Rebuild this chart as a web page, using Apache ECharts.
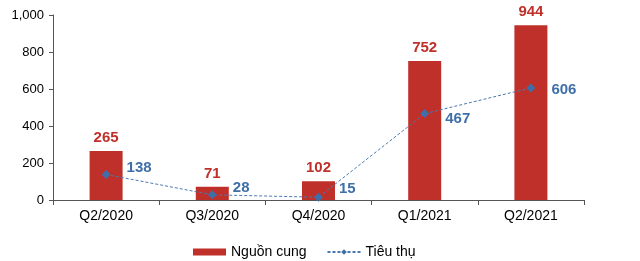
<!DOCTYPE html>
<html><head><meta charset="utf-8">
<script src="https://cdn.jsdelivr.net/npm/echarts@6/dist/echarts.min.js"></script>
<style>html,body{margin:0;padding:0;background:#fff}#c{width:640px;height:261px}</style>
</head><body><div id="c"></div>
<script>
var categories = ['Q2/2020', 'Q3/2020', 'Q4/2020', 'Q1/2021', 'Q2/2021'];
var supply = [265, 71, 102, 752, 944];
var consumption = [138, 28, 15, 467, 606];
var yTicks = [0, 200, 400, 600, 800, 1000];

var lineOffsets = [[0,-7],[0,-7],[0,-8],[0,5],[0,2]];
var FONT = '"Liberation Sans", Arial, sans-serif';
var chart = echarts.init(document.getElementById('c'));
chart.setOption({
  animation: false,
  textStyle: {fontFamily: FONT},
  grid: {left: 53, right: 56, top: 15, bottom: 61, containLabel: false},
  legend: {
    left: 188, top: 240, itemWidth: 33, itemHeight: 7, itemGap: 20,
    textStyle: {fontFamily: FONT, fontSize: 14, color: '#000'},
    data: [{name: 'Nguồn cung', icon: 'rect'}, {name: 'Tiêu thụ'}]
  },
  xAxis: {
    type: 'category', data: categories,
    axisLine: {lineStyle: {color: '#555', width: 1}},
    axisTick: {show: true, alignWithLabel: false, length: 5, lineStyle: {color: '#555'}},
    axisLabel: {color: '#000', fontSize: 14, margin: 9, fontFamily: FONT}
  },
  yAxis: {
    type: 'value', min: yTicks[0], max: yTicks[yTicks.length-1], interval: 200,
    axisLine: {show: true, lineStyle: {color: '#555'}},
    axisTick: {show: true, length: 4, lineStyle: {color: '#555'}},
    splitLine: {show: false},
    axisLabel: {color: '#000', fontSize: 13, margin: 9, fontFamily: FONT,
      formatter: function(v){ return v.toLocaleString('en-US'); }}
  },
  series: [
    {
      name: 'Nguồn cung', type: 'bar', data: supply, barWidth: 33,
      itemStyle: {color: '#C0302A'},
      label: {show: true, position: 'top', distance: 6, color: '#C0302A',
        fontSize: 15, fontWeight: 'bold', fontFamily: FONT}
    },
    {
      name: 'Tiêu thụ', type: 'line',
      data: consumption.map(function(v, i){
        return {value: v, label: {offset: lineOffsets[i]}};
      }),
      symbol: 'diamond', symbolSize: 9,
      lineStyle: {color: '#4A78B0', width: 1, type: [3, 2]},
      itemStyle: {color: '#3F6FA8'},
      label: {show: true, position: 'right', distance: 16, color: '#3F6FA8',
        fontSize: 15, fontWeight: 'bold', fontFamily: FONT}
    }
  ]
});
</script></body></html>
